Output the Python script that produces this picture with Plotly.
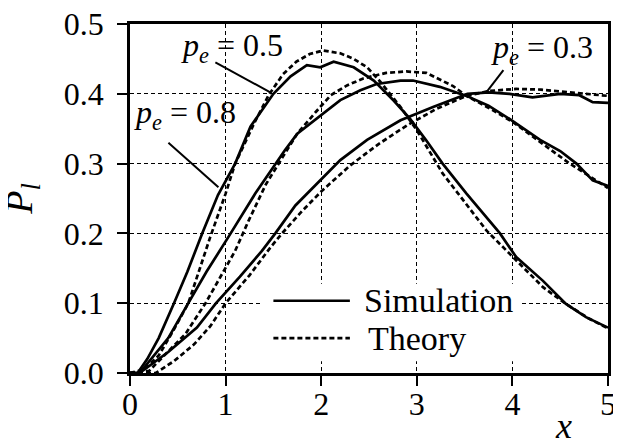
import plotly.graph_objects as go

# values
# p_e = 0.8 curve (steepest, earliest peak)
x_a_sim = [0, 0.08, 0.18, 0.3, 0.46, 0.6, 0.755, 0.92, 1.1, 1.26, 1.5, 1.68, 1.85, 1.99, 2.13, 2.34, 2.55, 2.76, 2.93, 3.1, 3.27, 3.52, 3.87, 4.04, 4.32, 4.56, 4.77, 5.0]
y_a_sim = [0, 0, 0.02, 0.05, 0.1, 0.145, 0.2, 0.255, 0.30, 0.353, 0.40, 0.425, 0.441, 0.438, 0.446, 0.438, 0.419, 0.390, 0.364, 0.333, 0.30, 0.257, 0.20, 0.166, 0.132, 0.099, 0.080, 0.065]
x_a_th = [0, 0.15, 0.3, 0.45, 0.61, 0.72, 0.84, 1.0, 1.1, 1.3, 1.45, 1.6, 1.74, 1.88, 2.02, 2.2, 2.34, 2.48, 2.62, 2.83, 3.0, 3.27, 3.5, 3.73, 3.97, 4.32, 4.56, 4.8, 5.0]
y_a_th = [0, 0.005, 0.025, 0.06, 0.1, 0.145, 0.195, 0.257, 0.30, 0.358, 0.398, 0.428, 0.446, 0.457, 0.462, 0.458, 0.450, 0.438, 0.417, 0.381, 0.348, 0.286, 0.245, 0.204, 0.171, 0.123, 0.099, 0.078, 0.064]

# p_e = 0.5 curve (middle)
x_b_sim = [0, 0.1, 0.25, 0.4, 0.61, 0.8, 1.03, 1.31, 1.5, 1.62, 1.75, 1.99, 2.2, 2.41, 2.58, 2.83, 2.96, 3.24, 3.52, 3.75, 3.97, 4.29, 4.5, 4.67, 4.84, 5.0]
y_b_sim = [0, 0, 0.025, 0.05, 0.1, 0.145, 0.195, 0.257, 0.295, 0.319, 0.343, 0.369, 0.391, 0.405, 0.414, 0.419, 0.419, 0.41, 0.397, 0.383, 0.364, 0.334, 0.318, 0.30, 0.276, 0.268]
x_b_th = [0, 0.2, 0.35, 0.58, 0.79, 0.95, 1.1, 1.24, 1.42, 1.6, 1.75, 1.95, 2.1, 2.27, 2.44, 2.68, 2.89, 3.1, 3.38, 3.52, 3.75, 4.0, 4.3, 4.6, 5.0]
y_b_th = [0, 0.003, 0.024, 0.056, 0.1, 0.138, 0.175, 0.218, 0.27, 0.31, 0.343, 0.375, 0.398, 0.412, 0.422, 0.43, 0.432, 0.43, 0.411, 0.397, 0.38, 0.36, 0.33, 0.30, 0.265]

# p_e = 0.3 curve (slowest)
x_c_sim = [0, 0.1, 0.4, 0.7, 0.9, 1.15, 1.38, 1.52, 1.73, 1.92, 2.2, 2.48, 2.83, 3.17, 3.53, 3.75, 3.97, 4.21, 4.5, 4.7, 4.84, 5.0]
y_c_sim = [0, 0, 0.03, 0.065, 0.1, 0.138, 0.175, 0.2, 0.24, 0.266, 0.305, 0.334, 0.362, 0.381, 0.40, 0.402, 0.40, 0.395, 0.40, 0.398, 0.388, 0.387]
x_c_th = [0, 0.27, 0.46, 0.67, 0.84, 1.0, 1.25, 1.47, 1.59, 1.8, 2.0, 2.3, 2.6, 2.9, 3.2, 3.5, 3.75, 4.04, 4.3, 4.56, 4.8, 5.0]
y_c_th = [0, 0, 0.017, 0.041, 0.067, 0.1, 0.14, 0.18, 0.2, 0.232, 0.26, 0.297, 0.328, 0.355, 0.378, 0.396, 0.404, 0.407, 0.406, 0.403, 0.40, 0.397]

x_ticks = [0, 1, 2, 3, 4, 5]
y_ticks = [0.0, 0.1, 0.2, 0.3, 0.4, 0.5]
y_tick_text = ["0.0", "0.1", "0.2", "0.3", "0.4", "0.5"]

FONT = "Liberation Serif, Times New Roman, serif"
solid = dict(color="black", width=2.7)
dashed = dict(color="black", width=2.7, dash="5px,3px")

fig = go.Figure()
for name, xs, ys, xt, yt in [("p_e = 0.8", x_a_sim, y_a_sim, x_a_th, y_a_th),
                              ("p_e = 0.5", x_b_sim, y_b_sim, x_b_th, y_b_th),
                              ("p_e = 0.3", x_c_sim, y_c_sim, x_c_th, y_c_th)]:
    fig.add_trace(go.Scatter(x=xt, y=yt, mode="lines", line=dashed, name=name + " theory", showlegend=False))
    fig.add_trace(go.Scatter(x=xs, y=ys, mode="lines", line=solid, name=name + " simulation", showlegend=False))

# hand-made legend, white box hides the grid behind it
fig.add_shape(type="rect", x0=1.38, x1=4.1, y0=0.017, y1=0.128, xref="x", yref="y",
              fillcolor="white", line=dict(width=0), layer="between")
fig.add_shape(type="line", x0=1.5, x1=2.3, y0=0.1035, y1=0.1035, line=solid)
fig.add_shape(type="line", x0=1.5, x1=2.3, y0=0.05, y1=0.05, line=dashed)
fig.add_annotation(x=2.43, y=0.1035, text="Simulation", showarrow=False, xanchor="left",
                   font=dict(size=34, family=FONT, color="black"))
fig.add_annotation(x=2.47, y=0.05, text="Theory", showarrow=False, xanchor="left",
                   font=dict(size=34, family=FONT, color="black"))

# curve labels with pointer lines
labels = [("<i>p<sub>e</sub></i> = 0.5", 1.07, 0.466, 0.893, 0.445, 1.468, 0.402),
          ("<i>p<sub>e</sub></i> = 0.8", 0.58, 0.370, 0.402, 0.330, 0.925, 0.266),
          ("<i>p<sub>e</sub></i> = 0.3", 4.31, 0.463, 3.906, 0.434, 3.733, 0.403)]
for txt, tx, ty, lx0, ly0, lx1, ly1 in labels:
    fig.add_annotation(x=tx, y=ty, text=txt, showarrow=False,
                       font=dict(size=32, family=FONT, color="black"))
    fig.add_shape(type="line", x0=lx0, y0=ly0, x1=lx1, y1=ly1, line=dict(color="black", width=2))

# axis titles
fig.add_annotation(x=-0.282, y=0.25, xref="paper", yref="y", text="<i>P<sub>l</sub></i>",
                   textangle=-90, showarrow=False, font=dict(size=38, family=FONT, color="black"))
fig.add_annotation(x=4.53, y=-0.215, xref="x", yref="paper", text="<i>x</i>", showarrow=False,
                   font=dict(size=36, family=FONT, color="black"))

axis_common = dict(showline=True, linecolor="black", linewidth=2.5, mirror=True,
                   ticks="outside", ticklen=10, tickwidth=2, tickcolor="black",
                   showgrid=True, gridcolor="black", gridwidth=1, griddash="4px,3px",
                   zeroline=False, automargin=False, ticklabeloverflow="allow",
                   tickfont=dict(size=32, family=FONT, color="black"))
fig.update_xaxes(range=[0, 5], tickvals=x_ticks, ticklabelstandoff=-9, **axis_common)
fig.update_yaxes(range=[0, 0.5], tickvals=y_ticks, ticktext=y_tick_text, ticklabelstandoff=7, **axis_common)

# the page adds an 8px body margin, so the figure is 8px smaller and margins shifted
fig.update_layout(width=613, height=437, margin=dict(l=122, r=13, t=16, b=72),
                  plot_bgcolor="white", paper_bgcolor="white", showlegend=False)

fig.write_html("out.html")
